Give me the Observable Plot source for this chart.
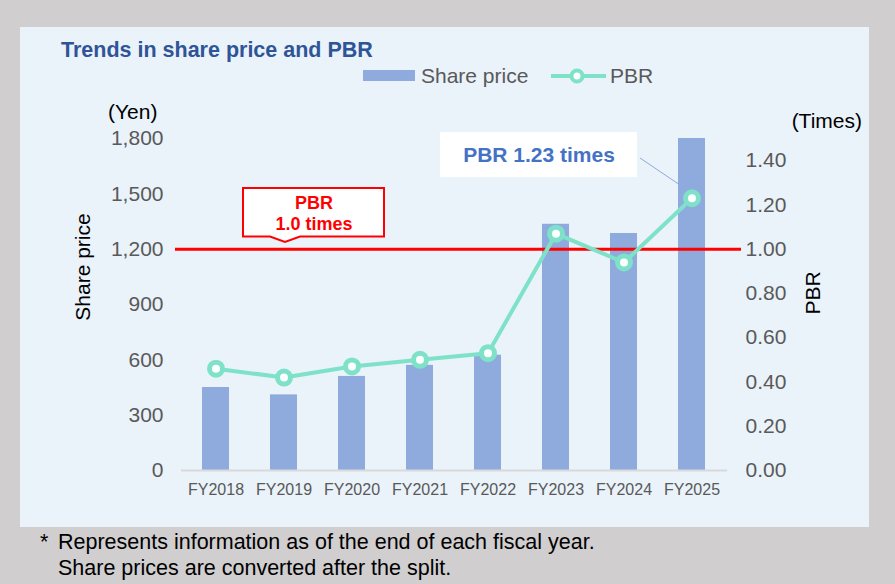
<!DOCTYPE html>
<html>
<head>
<meta charset="utf-8">
<script src="https://cdn.jsdelivr.net/npm/d3@7"></script>
<script src="https://cdn.jsdelivr.net/npm/@observablehq/plot@0.6"></script>
<style>
  html, body { margin: 0; padding: 0; background: #d0cece; }
  #wrap { position: relative; width: 895px; height: 584px; overflow: hidden; background: #d0cece; font-family: "Liberation Sans", Arial, sans-serif; }
  #panel { position: absolute; left: 20px; top: 27px; width: 849px; height: 500px; background: #eaf2fa; }
  #chart { position: absolute; left: 20px; top: 27px; }
  #overlay { position: absolute; left: 0; top: 0; pointer-events: none; }
</style>
</head>
<body>
<div id="wrap">
  <div id="panel"></div>
  <div id="chart"></div>
  <svg id="overlay" width="895" height="584"></svg>
</div>
<script>
// ---- data ----
const years = ["FY2018","FY2019","FY2020","FY2021","FY2022","FY2023","FY2024","FY2025"];
const sharePrice = [450, 410, 510, 570, 625, 1335, 1285, 1800];
const pbr = [0.46, 0.42, 0.47, 0.50, 0.53, 1.07, 0.94, 1.23];
const leftTicks = [0, 300, 600, 900, 1200, 1500, 1800];
const rightTicks = [0, 0.2, 0.4, 0.6, 0.8, 1.0, 1.2, 1.4];
const pbrRef = 1.0;
const ratio = 1200; // 1.0 times PBR sits on 1,200 yen

const data = years.map((y, i) => ({year: y, price: sharePrice[i], pbr: pbr[i], pbrY: pbr[i] * ratio}));

const barColor = "#8faadc";
const lineColor = "#7de2c8";
const font = "'Liberation Sans', Arial, sans-serif";

const plot = Plot.plot({
  width: 849,
  height: 500,
  marginLeft: 161,
  marginRight: 142,
  marginTop: 111,
  marginBottom: 57,
  style: {background: "transparent", color: "#595959", fontFamily: font, overflow: "visible"},
  x: {domain: years, paddingInner: 0.6, paddingOuter: 0.3, label: null},
  y: {domain: [0, 1800], label: null},
  marks: [
    Plot.barY(data, {x: "year", y: "price", fill: barColor}),
    Plot.ruleY([0], {stroke: "#d9d9d9", strokeWidth: 2}),
    Plot.ruleY([pbrRef * ratio], {stroke: "#ff0000", strokeWidth: 3, insetLeft: -6, insetRight: -14}),
    Plot.line(data, {x: "year", y: "pbrY", stroke: lineColor, strokeWidth: 4}),
    Plot.dot(data, {x: "year", y: "pbrY", r: 6.5, fill: "white", stroke: lineColor, strokeWidth: 5}),
    Plot.axisY(leftTicks, {anchor: "left", tickSize: 0, tickPadding: 18, fontSize: 21, tickFormat: d3.format(","), label: null}),
    Plot.axisY(rightTicks.map(v => v * ratio), {anchor: "right", tickSize: 0, tickPadding: 18, fontSize: 21, tickFormat: d => (d / ratio).toFixed(2), label: null}),
    Plot.axisX({tickSize: 0, tickPadding: 13, fontSize: 16, label: null})
  ]
});
document.getElementById("chart").appendChild(plot);

// ---- overlay: title, legend, axis titles, callouts, footnote ----
const svg = d3.select("#overlay").style("font-family", font);

svg.append("text").attr("x", 61).attr("y", 57).attr("font-size", 21.5).attr("font-weight", "bold")
  .attr("fill", "#2f5597").text("Trends in share price and PBR");

// legend
svg.append("rect").attr("x", 363).attr("y", 70).attr("width", 52).attr("height", 11).attr("fill", barColor);
svg.append("text").attr("x", 421).attr("y", 83).attr("font-size", 21).attr("fill", "#595959").text("Share price");
svg.append("line").attr("x1", 551).attr("x2", 606).attr("y1", 76).attr("y2", 76).attr("stroke", lineColor).attr("stroke-width", 4);
svg.append("circle").attr("cx", 577).attr("cy", 76).attr("r", 5.5).attr("fill", "white").attr("stroke", lineColor).attr("stroke-width", 4);
svg.append("text").attr("x", 610).attr("y", 83).attr("font-size", 21).attr("fill", "#595959").text("PBR");

// axis titles
svg.append("text").attr("x", 108).attr("y", 119).attr("font-size", 21).attr("fill", "#000").text("(Yen)");
svg.append("text").attr("x", 862).attr("y", 128).attr("font-size", 21).attr("fill", "#000").attr("text-anchor", "end").text("(Times)");
svg.append("text").attr("transform", "translate(90,267) rotate(-90)").attr("font-size", 21).attr("fill", "#000")
  .attr("text-anchor", "middle").text("Share price");
svg.append("text").attr("transform", "translate(820,293) rotate(-90)").attr("font-size", 21).attr("fill", "#000")
  .attr("text-anchor", "middle").text("PBR");

// red callout
svg.append("path").attr("d", "M243,188 H384 V236.5 H300 L285,242 L270,236.5 H243 Z")
  .attr("fill", "white").attr("stroke", "#ff0000").attr("stroke-width", 2);
svg.append("text").attr("x", 314).attr("y", 209).attr("font-size", 18).attr("font-weight", "bold")
  .attr("fill", "#ff0000").attr("text-anchor", "middle").text("PBR");
svg.append("text").attr("x", 314).attr("y", 230).attr("font-size", 18).attr("font-weight", "bold")
  .attr("fill", "#ff0000").attr("text-anchor", "middle").text("1.0 times");

// blue callout
svg.append("line").attr("x1", 640).attr("y1", 158).attr("x2", 680).attr("y2", 185).attr("stroke", barColor).attr("stroke-width", 1);
svg.append("rect").attr("x", 440).attr("y", 132).attr("width", 197).attr("height", 45).attr("fill", "white");
svg.append("text").attr("x", 539).attr("y", 162).attr("font-size", 21).attr("font-weight", "bold")
  .attr("fill", "#4472c4").attr("text-anchor", "middle").text("PBR 1.23 times");

// footnote
svg.append("text").attr("x", 40).attr("y", 549).attr("font-size", 21.5).attr("fill", "#000").text("*");
svg.append("text").attr("x", 58).attr("y", 549).attr("font-size", 21.5).attr("fill", "#000").text("Represents information as of the end of each fiscal year.");
svg.append("text").attr("x", 58).attr("y", 575).attr("font-size", 21.5).attr("fill", "#000").text("Share prices are converted after the split.");
</script>
</body>
</html>
